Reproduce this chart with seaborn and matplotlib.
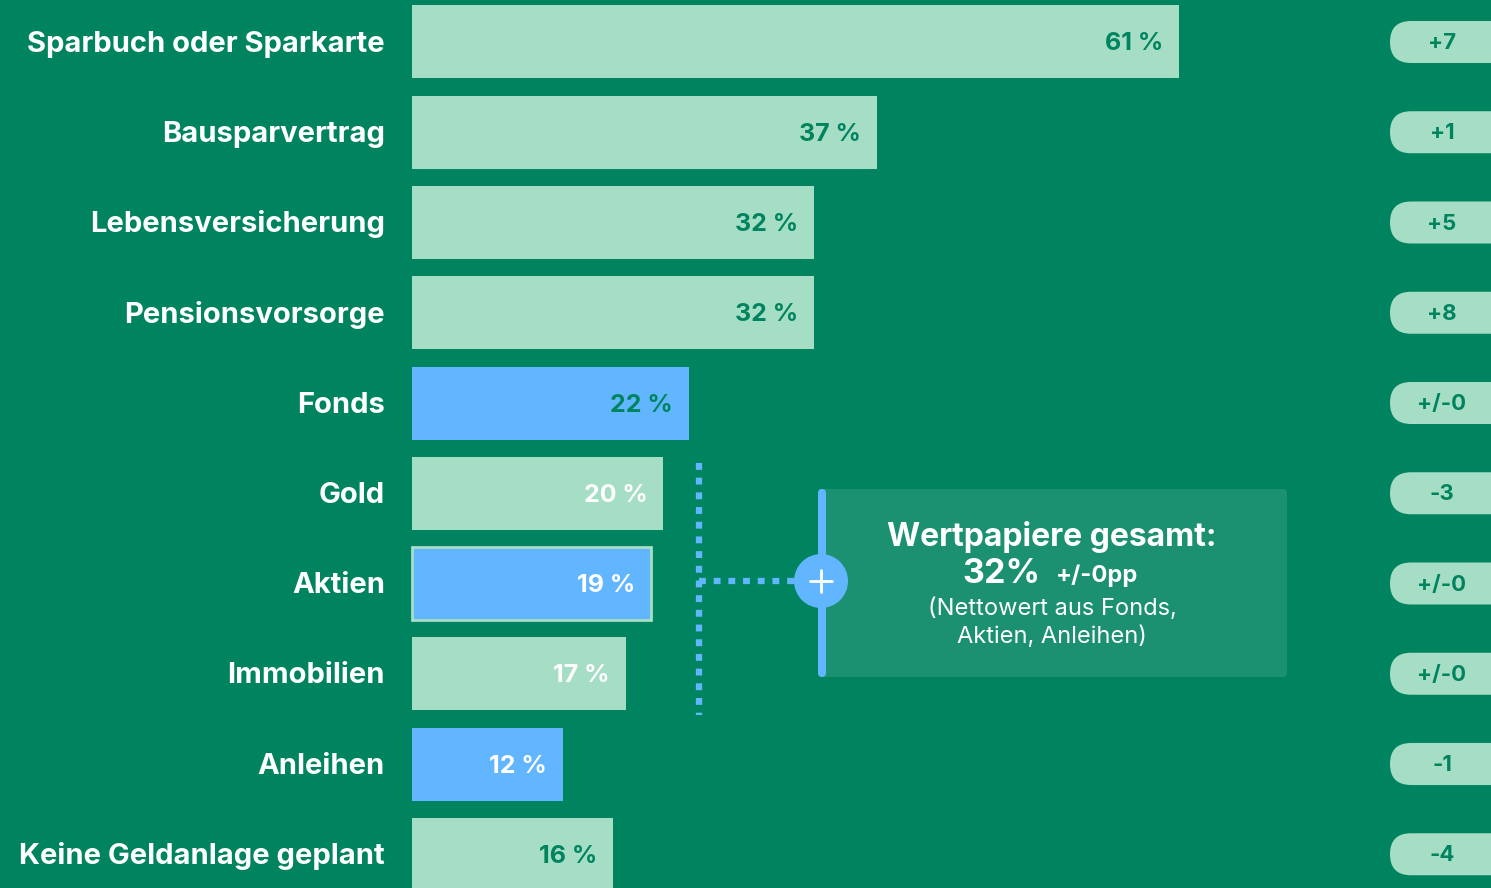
import matplotlib
matplotlib.use("Agg")
import matplotlib.pyplot as plt
import seaborn as sns
import pandas as pd
from matplotlib.patches import FancyBboxPatch, Rectangle, Ellipse

# data
categories = ["Sparbuch oder Sparkarte", "Bausparvertrag", "Lebensversicherung",
              "Pensionsvorsorge", "Fonds", "Gold", "Aktien", "Immobilien",
              "Anleihen", "Keine Geldanlage geplant"]
values = [61, 37, 32, 32, 22, 20, 19, 17, 12, 16]
changes = ["+7", "+1", "+5", "+8", "+/-0", "-3", "+/-0", "+/-0", "-1", "-4"]
securities = ["Fonds", "Aktien", "Anleihen"]
white_value_labels = ["Gold", "Aktien", "Immobilien", "Anleihen"]

BG = "#00845F"
LIGHT = "#A6DEC5"
BLUE = "#62B6FF"
BOX = "#1B9171"

df = pd.DataFrame({"cat": categories, "val": values})
df["kind"] = ["wp" if c in securities else "other" for c in categories]

sns.set_theme(style="white")
plt.rcParams["font.family"] = ["Inter", "DejaVu Sans"]

W, H = 1491, 888
fig = plt.figure(figsize=(W / 100, H / 100), dpi=100)
fig.patch.set_facecolor(BG)
ax = fig.add_axes([0, 0, 1, 1])
ax.set_facecolor(BG)

px_x = 12.574   # pixels per percent
px_y = 90.25    # pixels per row
x0 = 412        # pixel of 0 %
y0 = 42         # pixel of first row centre
asp = px_x / px_y

sns.barplot(data=df, x="val", y="cat", hue="kind", order=categories,
            palette={"wp": BLUE, "other": LIGHT}, width=73 / px_y,
            orient="h", dodge=False, legend=False, ax=ax, saturation=1)

ax.set_xlim(-x0 / px_x, (W - x0) / px_x)
ax.set_ylim((H - y0) / px_y, -y0 / px_y)
ax.axis("off")


def px2d(x, y):
    return (x - x0) / px_x, (y - y0) / px_y


def rbox(xy, w, h, r, **kw):
    return FancyBboxPatch(xy, w, h, boxstyle=f"round,pad=0,rounding_size={r}",
                          mutation_aspect=asp, edgecolor="none", **kw)


# outline for Aktien bar
for p in ax.patches:
    p.set_linewidth(0)
ia = categories.index("Aktien")
ax.add_patch(Rectangle((0, ia - 73 / px_y / 2), values[ia], 73 / px_y,
                       fill=False, edgecolor=LIGHT, linewidth=2, zorder=3))

# labels
dy = 2 / px_y
for i, (c, v, ch) in enumerate(zip(categories, values, changes)):
    ax.text(-27 / px_x, i + dy, c, ha="right", va="center", color="white",
            fontsize=21, fontweight="bold")
    col = "white" if c in white_value_labels else BG
    ax.text(v - 16 / px_x, i + dy, f"{v} %", ha="right", va="center",
            color=col, fontsize=18, fontweight="bold")
    # change badge
    bh = 42 / px_y
    ax.add_patch(rbox(((1390 - x0) / px_x, i - bh / 2), 200 / px_x, bh,
                      21 / px_x, facecolor=LIGHT, clip_on=False))
    ax.text((1442 - x0) / px_x, i + dy / 2, ch, ha="center", va="center", color=BG,
            fontsize=16, fontweight="bold")

# bracket of dotted lines
dx, dy1 = px2d(699, 463)
_, dy2 = px2d(699, 715)
_, dym = px2d(699, 581)
hx2, _ = px2d(795, 581)
ax.plot([dx, dx], [dy1, dy2], color=BLUE, lw=4.5, linestyle=(0, (1.1, 1.25)),
        dash_capstyle="butt")
ax.plot([dx, hx2], [dym, dym], color=BLUE, lw=4.5, linestyle=(0, (1.1, 1.25)),
        dash_capstyle="butt")

# callout box
bx, by = px2d(818, 489)
bx2, by2 = px2d(1287, 677)
ax.add_patch(rbox((bx, by), bx2 - bx, by2 - by, 4 / px_x, facecolor=BOX, zorder=2))
sx, _ = px2d(826, 0)
ax.add_patch(rbox((bx, by), sx - bx, by2 - by, 4 / px_x, facecolor=BLUE, zorder=3))
cx, cy = px2d(821, 581)
ax.add_patch(Ellipse((cx, cy), 54 / px_x, 54 / px_y, facecolor=BLUE,
                     edgecolor="none", zorder=4))
ax.plot([cx - 11 / px_x, cx + 11 / px_x], [cy, cy], color="white", lw=2, zorder=5)
ax.plot([cx, cx], [cy - 11 / px_y, cy + 11 / px_y], color="white", lw=2, zorder=5)

tx, ty = px2d(1052, 537)
ax.text(tx, ty, "Wertpapiere gesamt:", ha="center", va="center", color="white",
        fontsize=23, fontweight="bold", zorder=6)
t1x, t1y = px2d(1041, 574)
ax.text(t1x, t1y, "32%", ha="right", va="center", color="white",
        fontsize=24.5, fontweight="bold", zorder=6)
t2x, _ = px2d(1056, 574)
ax.text(t2x, t1y + 2 / px_y, "+/-0pp", ha="left", va="center", color="white",
        fontsize=17, fontweight="bold", zorder=6)
t3x, t3y = px2d(1052, 623)
ax.text(t3x, t3y, "(Nettowert aus Fonds,\nAktien, Anleihen)", ha="center",
        va="center", color="white", fontsize=17, linespacing=1.3, zorder=6)

fig.savefig("out.png", dpi=100, facecolor=BG)
